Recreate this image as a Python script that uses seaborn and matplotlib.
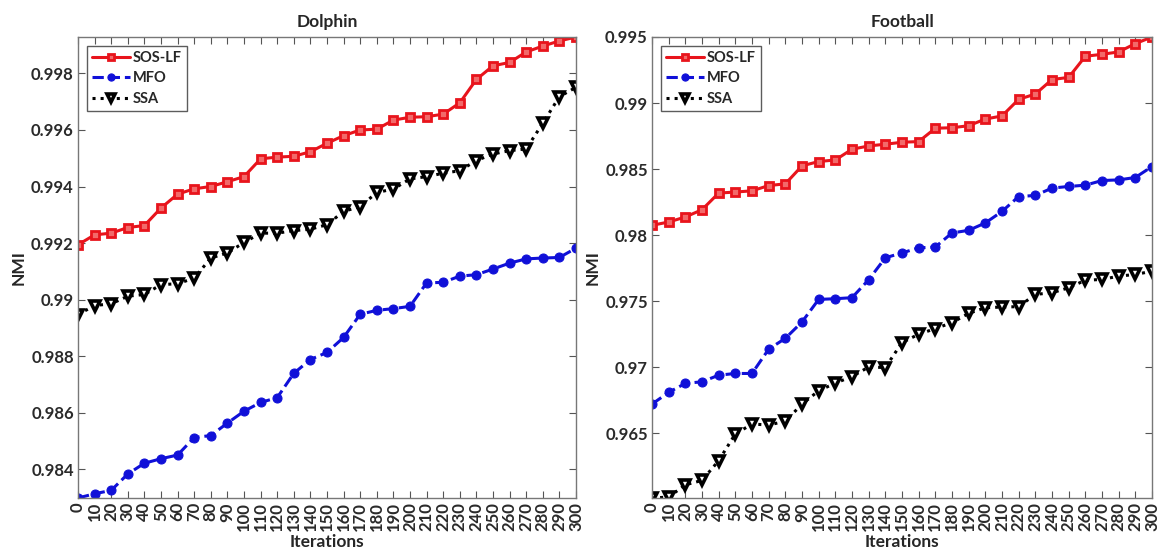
import seaborn as sns
import matplotlib.pyplot as plt
from matplotlib.ticker import FuncFormatter
import pandas as pd

iterations = list(range(0, 301, 10))

dolphin_sos = [0.99194, 0.99229, 0.99235, 0.99255, 0.99262, 0.99324, 0.99373, 0.99392, 0.99400, 0.99417,
               0.99435, 0.99498, 0.99504, 0.99507, 0.99523, 0.99553, 0.99580, 0.99600, 0.99603, 0.99635,
               0.99645, 0.99647, 0.99656, 0.99696, 0.99779, 0.99827, 0.99839, 0.99876, 0.99897, 0.99915,
               0.99929]
dolphin_mfo = [0.98298, 0.98313, 0.98325, 0.98383, 0.98421, 0.98437, 0.98450, 0.98512, 0.98519, 0.98563,
               0.98605, 0.98636, 0.98653, 0.98739, 0.98788, 0.98813, 0.98866, 0.98948, 0.98962, 0.98968,
               0.98976, 0.99059, 0.99061, 0.99083, 0.99088, 0.99108, 0.99129, 0.99144, 0.99147, 0.99149,
               0.99182]
dolphin_ssa = [0.98947, 0.98979, 0.98985, 0.99012, 0.99018, 0.99053, 0.99056, 0.99076, 0.99147, 0.99165,
               0.99202, 0.99235, 0.99235, 0.99244, 0.99249, 0.99265, 0.99312, 0.99329, 0.99379, 0.99391,
               0.99427, 0.99435, 0.99447, 0.99456, 0.99492, 0.99515, 0.99527, 0.99533, 0.99624, 0.99718,
               0.99751]

football_sos = [0.98074, 0.98099, 0.98137, 0.98192, 0.98318, 0.98326, 0.98335, 0.98375, 0.98388, 0.98524,
                0.98557, 0.98569, 0.98650, 0.98675, 0.98688, 0.98703, 0.98708, 0.98809, 0.98813, 0.98828,
                0.98879, 0.98902, 0.99028, 0.99068, 0.99178, 0.99194, 0.99354, 0.99369, 0.99387, 0.99450,
                0.99500]
football_mfo = [0.96720, 0.96809, 0.96877, 0.96889, 0.96939, 0.96952, 0.96952, 0.97136, 0.97218, 0.97342,
                0.97513, 0.97518, 0.97526, 0.97662, 0.97828, 0.97865, 0.97903, 0.97910, 0.98016, 0.98036,
                0.98092, 0.98179, 0.98292, 0.98300, 0.98356, 0.98368, 0.98378, 0.98413, 0.98418, 0.98436,
                0.98519]
football_ssa = [0.96009, 0.96016, 0.96109, 0.96142, 0.96292, 0.96494, 0.96569, 0.96562, 0.96590, 0.96720,
                0.96821, 0.96879, 0.96929, 0.97001, 0.96997, 0.97186, 0.97249, 0.97292, 0.97337, 0.97407,
                0.97450, 0.97455, 0.97458, 0.97551, 0.97563, 0.97601, 0.97658, 0.97664, 0.97689, 0.97702,
                0.97726]

dolphin_yticks = [0.984, 0.986, 0.988, 0.990, 0.992, 0.994, 0.996, 0.998]
football_yticks = [0.965, 0.970, 0.975, 0.980, 0.985, 0.990, 0.995]

series_styles = {
    'SOS-LF': dict(color='#e8141c', linestyle='-', marker='s'),
    'MFO': dict(color='#1010d8', linestyle='--', marker='o'),
    'SSA': dict(color='black', linestyle=':', marker='v'),
}

sns.set_style("ticks")
plt.rcParams['font.family'] = ['Lato', 'DejaVu Sans']
plt.rcParams['font.weight'] = 'bold'


def plot_panel(ax, title, sos, mfo, ssa, yticks):
    data = {'SOS-LF': sos, 'MFO': mfo, 'SSA': ssa}
    for name, vals in data.items():
        st = series_styles[name]
        df = pd.DataFrame({'Iterations': iterations, 'NMI': vals})
        if name == 'MFO':
            mk = dict(markersize=6.5, markerfacecolor=st['color'], markeredgecolor=st['color'])
        elif name == 'SOS-LF':
            mk = dict(markersize=6, markerfacecolor='#f26a6a', markeredgecolor=st['color'], markeredgewidth=2)
        else:
            mk = dict(markersize=7, markerfacecolor='white', markeredgecolor='black', markeredgewidth=2.6)
        sns.lineplot(data=df, x='Iterations', y='NMI', ax=ax, color=st['color'],
                     linestyle=st['linestyle'], marker=st['marker'], linewidth=2.2,
                     label=name, **mk)
    all_vals = sos + mfo + ssa
    ax.set_xlim(0, 300)
    ax.set_ylim(min(all_vals), max(all_vals))
    ax.set_xticks(iterations)
    ax.set_xticklabels([str(i) for i in iterations], rotation=90)
    ax.set_yticks(yticks)
    ax.yaxis.set_major_formatter(FuncFormatter(lambda v, p: '%g' % round(v, 3)))
    ax.tick_params(direction='in', top=True, right=True, length=5, color='#555555',
                   labelsize=12, pad=3)
    for lbl in ax.get_xticklabels() + ax.get_yticklabels():
        lbl.set_fontweight('bold')
        lbl.set_color('#2a2a2a')
    for sp in ax.spines.values():
        sp.set_visible(True)
        sp.set_color('#777777')
        sp.set_linewidth(1)
    ax.set_title(title, fontsize=12.5, fontweight='bold', pad=7)
    ax.set_xlabel('Iterations', fontsize=12.5, fontweight='bold', labelpad=2)
    ax.set_ylabel('NMI', fontsize=12.5, fontweight='bold', labelpad=3)
    leg = ax.legend(loc='upper left', fontsize=10.5, handlelength=2.6, frameon=True, fancybox=False,
                    borderpad=0.35, labelspacing=0.45, handletextpad=0.2,
                    borderaxespad=0.6, markerscale=0.8)
    leg.get_frame().set_edgecolor('#333333')
    leg.get_frame().set_linewidth(1)
    for t in leg.get_texts():
        t.set_fontweight('bold')


fig = plt.figure(figsize=(11.58, 5.51), dpi=100)
ax1 = fig.add_axes([78 / 1158, 53 / 551, 498 / 1158, 461 / 551])
ax2 = fig.add_axes([652 / 1158, 53 / 551, 500 / 1158, 461 / 551])

plot_panel(ax1, 'Dolphin', dolphin_sos, dolphin_mfo, dolphin_ssa, dolphin_yticks)
plot_panel(ax2, 'Football', football_sos, football_mfo, football_ssa, football_yticks)

fig.savefig('out.png', dpi=100)
